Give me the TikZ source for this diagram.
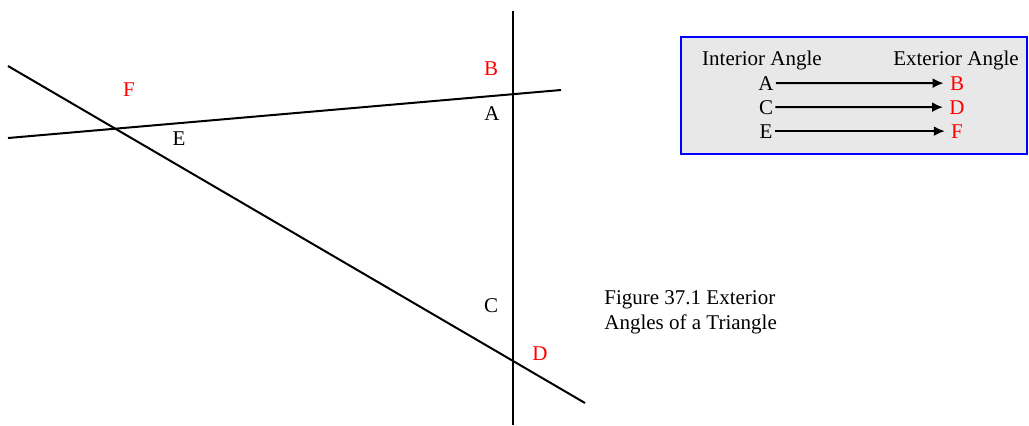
\documentclass[tikz,border=0pt]{standalone}
\usepackage{fontspec}
\setmainfont{Liberation Serif}
\usetikzlibrary{arrows.meta}

\begin{document}
\begin{tikzpicture}[x=0.5pt,y=-0.5pt,
    trline/.style={black,line width=1pt},
    intlabel/.style={anchor=base,inner sep=1pt,font=\fontsize{10.5}{12.5}\selectfont},
    extlabel/.style={intlabel,text=red},
    maparrow/.style={-{Latex[length=5.5pt,width=5pt]},line width=1pt,shorten >=2pt}]
\useasboundingbox (0,0) rectangle (1029,425);

% draw lines
\coordinate (vtop) at (513,11);
\coordinate (vbot) at (513,425);
\coordinate (hleft) at (8,138);
\coordinate (hright) at (561,90);
\coordinate (sleft) at (8,66);
\coordinate (sright) at (585,403);
\draw[trline] (vtop) -- (vbot);
\draw[trline] (hleft) -- (hright);
\draw[trline] (sleft) -- (sright);

% draw angle labels
\node[extlabel] (lF) at (129,96) {F};
\node[intlabel] (lE) at (179,145) {E};
\node[extlabel] (lB) at (491,75) {B};
\node[intlabel] (lA) at (492,120) {A};
\node[intlabel] (lC) at (491,312) {C};
\node[extlabel] (lD) at (540,360) {D};

% draw table
\draw[blue,line width=1pt,fill=gray!18] (681,37) rectangle (1027,154);
\node[intlabel] (hint) at (762,65) {Interior Angle};
\node[intlabel] (hext) at (956,65) {Exterior Angle};
\node[intlabel] (iA) at (766,90) {A};
\node[extlabel] (eB) at (957,90) {B};
\node[intlabel] (iC) at (766,114) {C};
\node[extlabel] (eD) at (957,114) {D};
\node[intlabel] (iE) at (766,138) {E};
\node[extlabel] (eF) at (957,138) {F};
\draw[maparrow] (iA) -- (eB);
\draw[maparrow] (iC) -- (eD);
\draw[maparrow] (iE) -- (eF);

% caption
\node[intlabel,anchor=north west,inner sep=0pt,align=left] (cap) at (604,290) {Figure 37.1 Exterior\\Angles of a Triangle};

\end{tikzpicture}
\end{document}
